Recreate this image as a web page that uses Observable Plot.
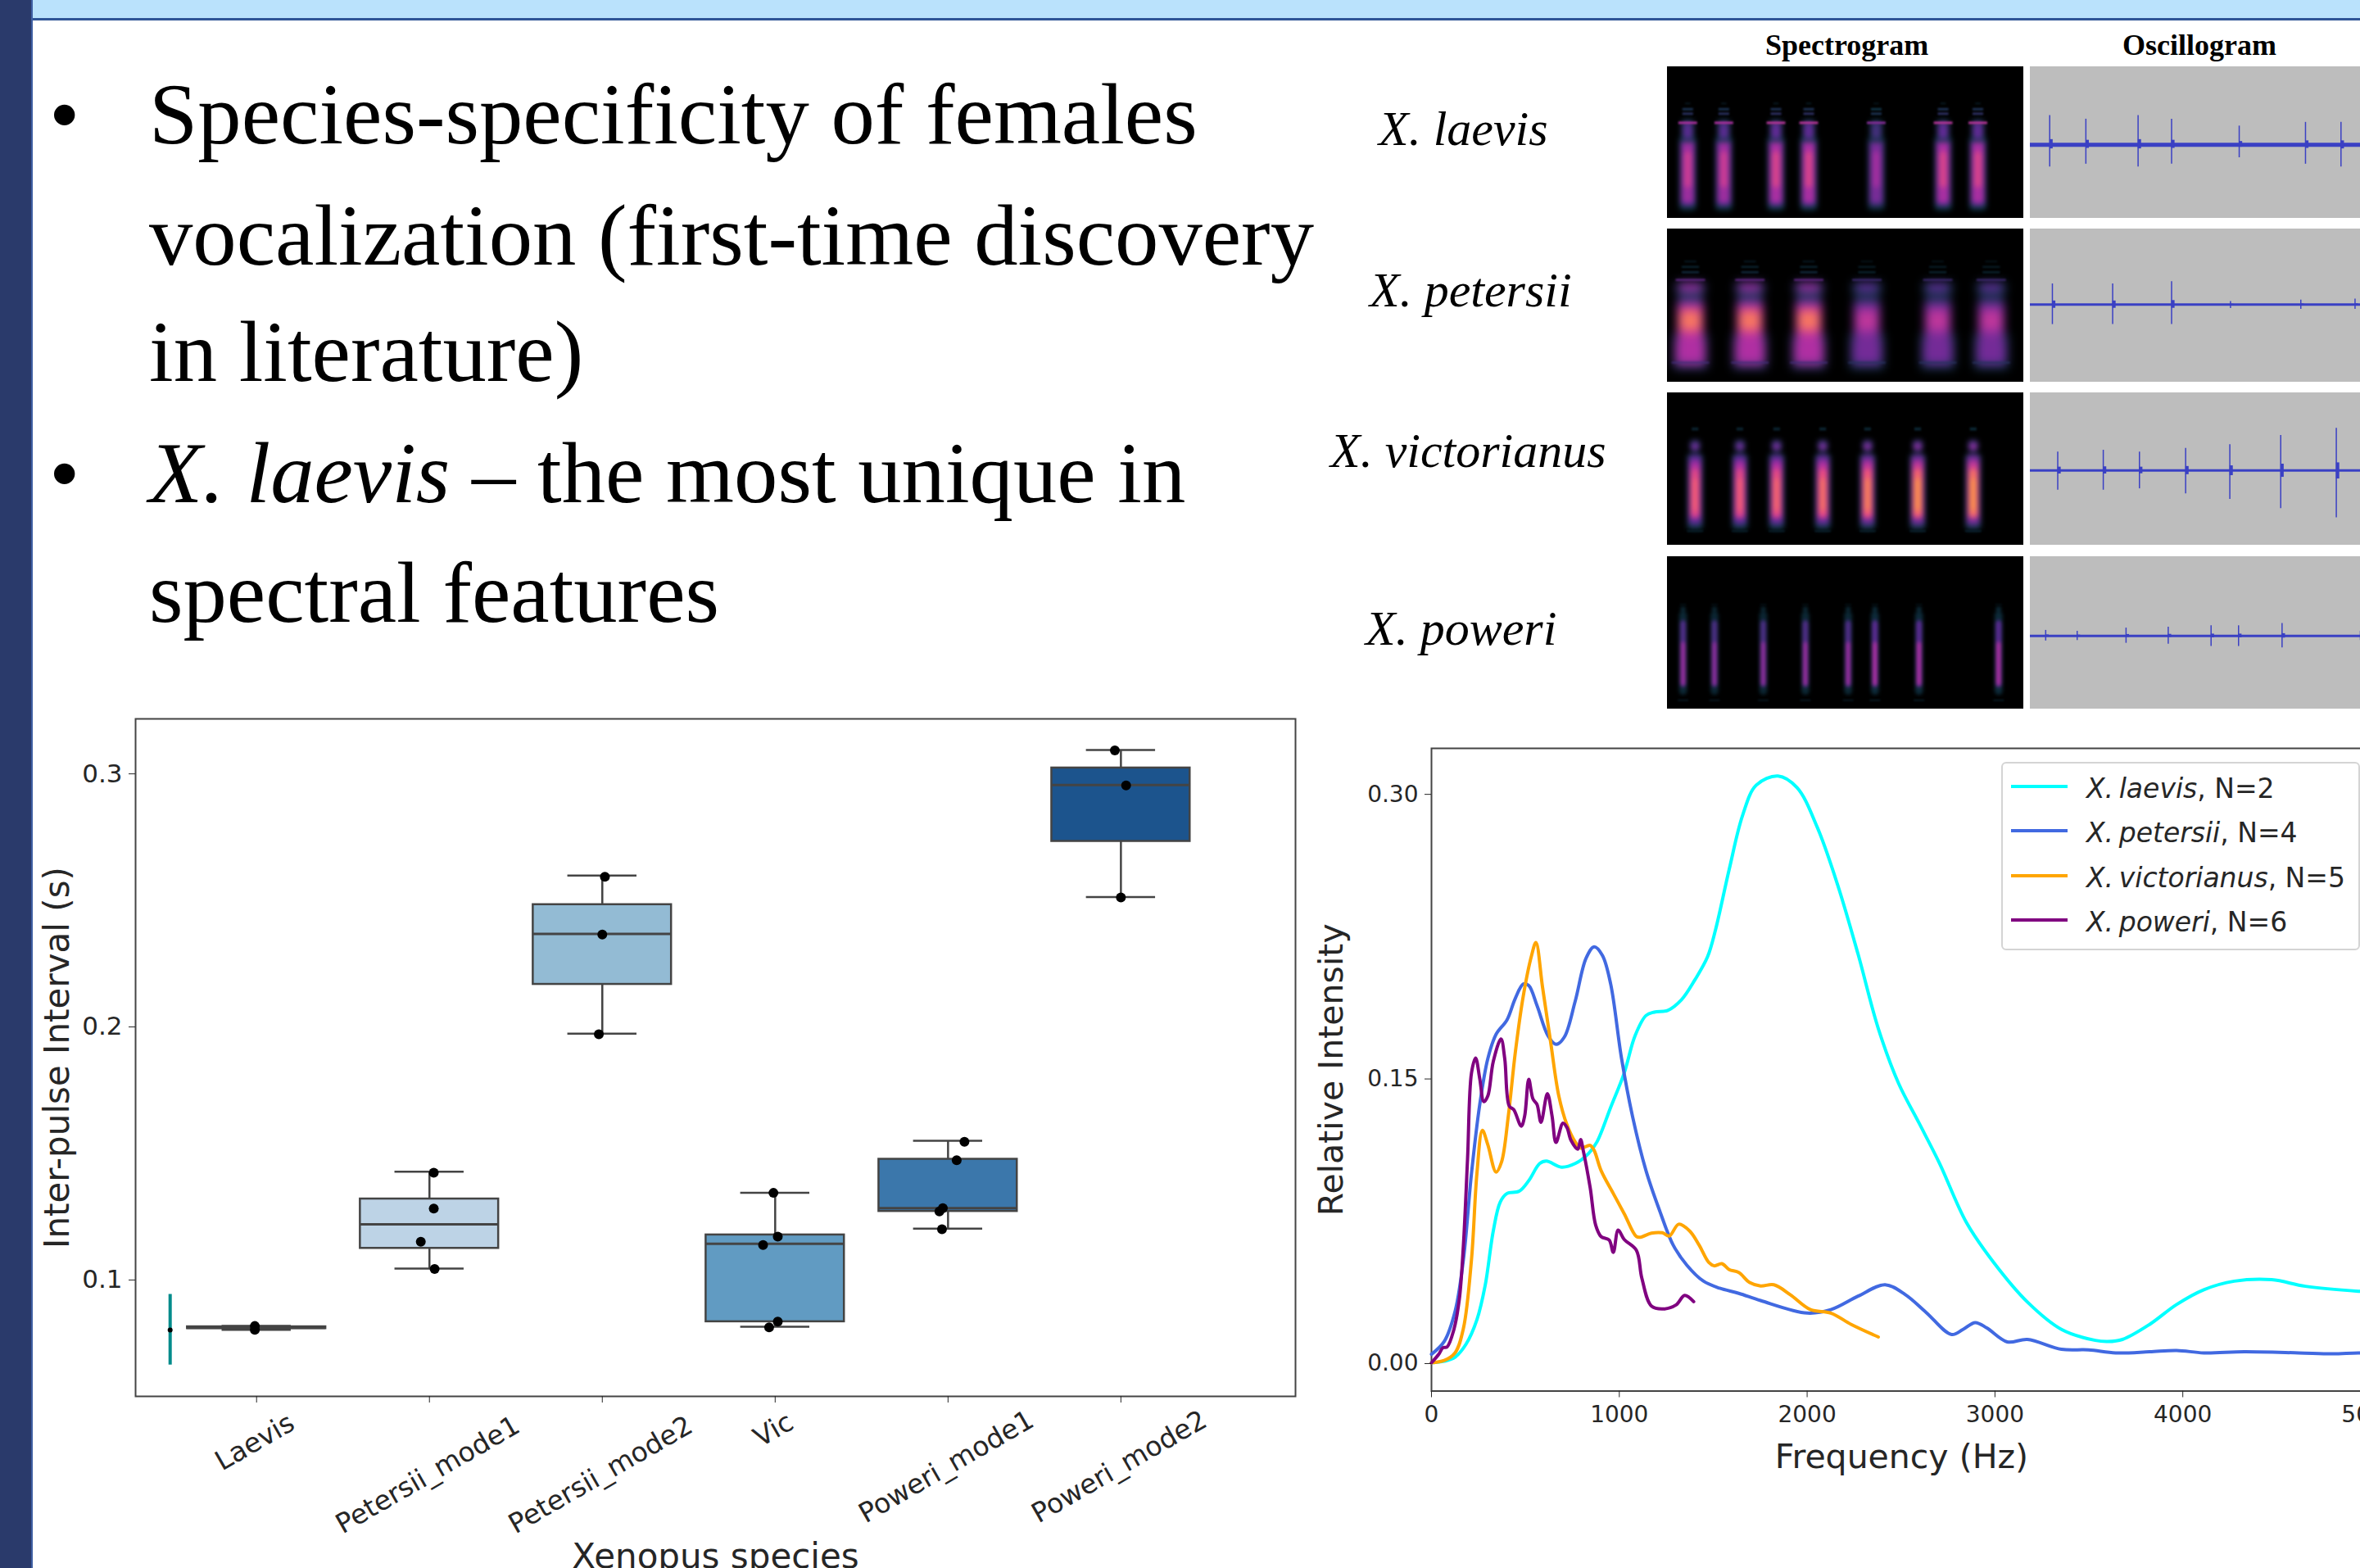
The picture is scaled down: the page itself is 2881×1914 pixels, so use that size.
<!DOCTYPE html>
<html><head><meta charset="utf-8">
<script src="https://cdn.jsdelivr.net/npm/d3@7"></script>
<script src="https://cdn.jsdelivr.net/npm/@observablehq/plot@0.6"></script>
<style>
html,body{margin:0;padding:0;background:#fff}
body{position:relative;width:2881px;height:1914px;overflow:hidden}
.a{position:absolute;white-space:nowrap;color:#000}
.serif{font-family:"Liberation Serif",serif}
svg{position:absolute}
</style></head><body>
<script>
// ---------- slide text ----------
const bulletLines = [
  {t:"Species-specificity of females", b:true, base:173},
  {t:"vocalization (first-time discovery", base:321},
  {t:"in literature)", base:463},
  {t:"<i>X. laevis</i> – the most unique in", b:true, base:611},
  {t:"spectral features", base:757}
];
// ---------- box plot ----------
const boxSpecies = ["Laevis","Petersii_mode1","Petersii_mode2","Vic","Poweri_mode1","Poweri_mode2"];
const boxQ1 =  [0.0805,0.1122,0.2165,0.0832,0.1268,0.2730];
const boxMed = [0.0808,0.1217,0.2364,0.1140,0.1281,0.2953];
const boxQ3 =  [0.0812,0.1317,0.2480,0.1175,0.1474,0.3020];
const boxLow = [0.0800,0.1042,0.1970,0.0812,0.1200,0.2510];
const boxHigh= [0.0815,0.1425,0.2595,0.1341,0.1547,0.3091];
const boxFill= ["#dfe9f3","#bdd3e6","#93bbd4","#619bc2","#3b77ab","#1c548d"];
const ptIndex= [0,0,1,1,1,1,2,2,2,3,3,3,3,3,4,4,4,4,4,5,5,5];
const ptJit  = [-0.01,-0.01,0.025,0.025,-0.05,0.03,0.015,0,-0.02,-0.01,0.015,-0.07,0.015,-0.035,0.095,0.05,-0.03,-0.05,-0.035,-0.035,0.03,0];
const ptVal  = [0.0815,0.0800,0.1421,0.1279,0.1148,0.1040,0.2590,0.2362,0.1968,0.1341,0.1168,0.1135,0.0832,0.0810,0.1543,0.1470,0.1281,0.1268,0.1197,0.3089,0.2951,0.2508];
const tealX = -0.50, tealLow = 0.0661, tealHigh = 0.0940, tealDot = 0.0799;
// ---------- spectra ----------
const laevisHz=[0,68,126,184,242,286,329,366,402,467,518,576,612,692,765,837,881,954,1026,1084,1142,1186,1258,1331,1403,1470,1513,1585,1657,1729,1845,1946,2054,2162,2271,2379,2487,2596,2704,2848,2993,3173,3354,3534,3600,3679,3823,3967,4112,4274,4473,4653,4935,5100];
const laevisI =[0,.0008,.003,.0098,.0227,.0408,.0695,.0847,.0892,.0904,.096,.105,.1063,.1031,.105,.1104,.1164,.1346,.1527,.1724,.183,.1848,.1857,.1913,.2019,.2140,.2285,.26,.2887,.3044,.3092,.3031,.2822,.252,.2154,.1761,.1472,.1263,.1053,.0739,.0529,.032,.0176,.0118,.0112,.0123,.0202,.0307,.0385,.043,.0438,.0403,.0377,.037];
const petersiiHz=[0,68,126,170,213,257,300,344,402,446,489,518,562,620,663,707,765,823,866,910,954,1012,1070,1142,1215,1287,1360,1447,1534,1636,1752,2000,2126,2271,2415,2523,2632,2769,2830,2895,2957,3065,3173,3354,3498,3643,3823,3967,4112,4328,4617,4798,4935,5100];
const petersiiI =[.0045,.0113,.0272,.0544,.0998,.1361,.1603,.1731,.1807,.192,.1996,.1988,.1882,.1724,.1678,.1716,.1905,.2132,.2192,.2147,.1996,.1603,.13,.1013,.0801,.062,.0514,.0431,.0393,.0366,.0328,.0262,.028,.0351,.0411,.0359,.0267,.0149,.0176,.0212,.0183,.011,.0123,.0071,.0068,.0052,.0058,.0065,.0052,.0058,.0052,.0047,.0052,.005];
const victorianusHz=[0,68,126,170,213,242,271,300,344,373,409,446,489,533,556,591,634,678,721,765,794,845,866,903,968,1026,1091,1113,1171,1229,1266,1316,1374,1425,1476,1505,1546,1585,1636,1694,1752,1823,1910,2018,2126,2235,2379];
const victorianusI =[0,.0012,.0053,.0181,.0544,.0998,.1225,.1149,.1005,.1058,.13,.1633,.1935,.2147,.2215,.1981,.1693,.1406,.1255,.1164,.1131,.1146,.1119,.1013,.0892,.0786,.0665,.0662,.0683,.0685,.0668,.073,.0695,.062,.0529,.0511,.0522,.0491,.0476,.0423,.0405,.0411,.0359,.028,.0262,.0202,.0136];
const poweriHz=[0,39,61,83,119,148,170,192,213,235,257,279,300,329,370,390,414,438,478,496,518,540,562,583,617,642,663,700,721,743,779,794,808,845,874,903,946,968,994,1026,1091,1120,1171,1237,1302,1348,1396];
const poweriI =[0,.0045,.0079,.0083,.0174,.0333,.062,.1074,.1527,.1606,.1497,.1376,.1406,.1588,.1706,.1603,.1353,.1334,.1247,.13,.1494,.1391,.1361,.1267,.1418,.13,.1161,.1263,.124,.1172,.1126,.1176,.1119,.0922,.0726,.0665,.0647,.0582,.0699,.065,.0593,.0446,.0299,.0284,.0305,.0355,.0322];
const lineNames=["laevis","petersii","victorianus","poweri"];
const lineCounts=[2,4,5,6];
const lineColors=["#00ffff","#4169e1","#ffa500","#800080"];
// ---------- spectrogram pulses (time units), bands: [f1,f2,halfWidth,level] ----------
const rowNames=["X. laevis","X. petersii","X. victorianus","X. poweri"];
const pulseT=[[31,85,163,212,313,413,465],[35,124,212,299,405,485],[42,109,164,233,300,375,458],[24,71,144,207,271,311,377,496]];
const pulseGain=[[.95,.95,1,1,.8,1,1],[1,1,1,.76,.76,.76],[.9,.9,.92,.94,.97,1,1.02],[.92,.88,.88,.92,.92,1,1,1]];
const softBands=[
 [[5,54,13,.2],[8,52,11,.48],[10,50,8,.66],[20,44,6,.8],[50,65,10,.22],[52,63,7.5,.46]],
 [[8,32,26,.28],[32,58,19,.2],[11,28,22,.62],[26,54,20,.5],[14,30,18,.68],[30,50,19,.76],[34,46,15,.95],[57,65.5,22,.3],[58.5,64,17,.6]],
 [[10,60,12,.22],[13,59,10,.5],[17,55,8,.74],[18,50,6.5,.92],[22,44,5,1],[61,69,8,.32],[62,67,6,.56]],
 [[9,64,6,.16],[14,58,4.5,.44],[15,44,3.5,.66],[64,67,3.5,.2]]
];
const sharpBands=[
 [[62,63.5,14,.72],[68,69.5,8,.3],[71,72.5,8,.25],[75,76,4,.1]],
 [[66,67,22,.5],[71,72,13,.22],[74.5,75.5,13,.17],[78,79,9,.1],[12,13,28,.36]],
 [[75,77,5,.14],[8.5,9.5,12,.14]],
 [[5,6,8,.1],[68,68.7,5,.08]]
];
const heatDomain=[0,.2,.45,.68,.88,1];
const heatRange=["#000000","#103547","#5b2a92","#b02fa2","#f0507e","#fb8f4c"];
// ---------- oscillogram spikes ----------
const spikeT=[[29,83,161,211,312,411,464],[33,123,211,299,404,485],[41,109,163,232,298,374,457],[23,70,143,206,270,311,376,493]];
const spikeUp=[[64,56,64,56,41,49,49],[45,45,50,7,10,12],[40,44,40,48,56,76,92],[12,10,17,19,22,22,27,10]];
const spikeDown=[[48,42,48,42,28,42,48],[43,43,43,8,10,10],[43,43,40,51,63,83,103],[11,10,16,18,23,23,26,10]];
const oscTop=[170,164,169,172];
const oscBottom=[160,168,163,159];
const oscBaseWidth=[5,3,3,3];

// ---------- helpers ----------
const add=n=>document.body.appendChild(n);
function text(html,x,base,fs,extra=""){
  const d=document.createElement("div");d.className="a serif";
  d.style.cssText=`left:${x}px;top:${base-0.891*fs}px;font-size:${fs}px;${extra}`;
  d.innerHTML=html;add(d);return d;
}
function box(x,y,w,h,c){const d=document.createElement("div");d.className="a";d.style.cssText=`left:${x}px;top:${y}px;width:${w}px;height:${h}px;background:${c}`;add(d);}
function place(svg,x,y){svg.style.left=x+"px";svg.style.top=y+"px";add(svg);}

// ---------- slide furniture ----------
box(39,0,2842,22,"#bae2fc");
box(39,22,2842,3,"#2f5597");
box(0,0,38,1914,"#2a3a6b");
box(38,0,2,1914,"#3f5fa3");
const bulletFs=106.7;
bulletLines.forEach(l=>{
  text(l.t,182,l.base,bulletFs);
  if(l.b) text("•",60,l.base,bulletFs);
});

// ---------- box plot ----------
const boxRows=boxSpecies.map((s,i)=>({i,s,q1:boxQ1[i],med:boxMed[i],q3:boxQ3[i],lo:boxLow[i],hi:boxHigh[i],fill:boxFill[i]}));
const pts=ptVal.map((v,k)=>({x:ptIndex[k]+ptJit[k],y:v}));
const sans="DejaVu Sans";
const W=0.4,C=0.2,dark="#444";
const boxPlot=Plot.plot({
  width:1620,height:1074,marginLeft:165,marginRight:39,marginTop:37,marginBottom:210,
  style:{fontFamily:sans,background:"transparent"},
  x:{domain:[-0.70,6.01]},
  y:{domain:[0.0537,0.3214]},
  marks:[
    Plot.frame({stroke:dark,strokeWidth:2}),
    Plot.ruleX(boxRows,{x:"i",y1:"lo",y2:"q1",stroke:dark,strokeWidth:2.5}),
    Plot.ruleX(boxRows,{x:"i",y1:"q3",y2:"hi",stroke:dark,strokeWidth:2.5}),
    Plot.ruleY(boxRows,{y:"lo",x1:d=>d.i-C,x2:d=>d.i+C,stroke:dark,strokeWidth:2.5}),
    Plot.ruleY(boxRows,{y:"hi",x1:d=>d.i-C,x2:d=>d.i+C,stroke:dark,strokeWidth:2.5}),
    Plot.rect(boxRows,{x1:d=>d.i-W,x2:d=>d.i+W,y1:"q1",y2:"q3",fill:"fill",stroke:dark,strokeWidth:2.5}),
    Plot.ruleY(boxRows,{y:"med",x1:d=>d.i-W,x2:d=>d.i+W,stroke:dark,strokeWidth:3}),
    Plot.dot(pts,{x:"x",y:"y",r:6,fill:"#000"}),
    Plot.ruleX([tealX],{y1:tealLow,y2:tealHigh,stroke:"#008b8b",strokeWidth:4}),
    Plot.dot([tealX],{x:d=>d,y:tealDot,r:3,fill:"#000"}),
    Plot.axisY({ticks:[0.1,0.2,0.3],tickFormat:".1f",fontSize:31,tickSize:8,tickPadding:8,color:"#262626",dy:1,label:null}),
    Plot.axisY({ticks:[],label:"Inter-pulse Interval (s)",labelAnchor:"center",labelOffset:111,labelArrow:"none",fontSize:42,color:"#262626"}),
    Plot.axisX({ticks:[0,1,2,3,4,5],text:null,tickSize:8,color:"#262626",label:null}),
    ...boxSpecies.map((s,i)=>Plot.axisX({ticks:[i],tickFormat:()=>s,tickSize:0,tickRotate:-30,textAnchor:"middle",lineAnchor:"middle",
      tickPadding:26+s.length*5,fontSize:33,dx:-2,color:"#262626",label:null})),
    Plot.axisX({ticks:[],label:"Xenopus species",labelAnchor:"center",labelOffset:209,labelArrow:"none",fontSize:42,color:"#262626"})
  ]
});
place(boxPlot,0,840);

// ---------- spectra ----------
const series=[[laevisHz,laevisI],[petersiiHz,petersiiI],[victorianusHz,victorianusI],[poweriHz,poweriI]]
  .map(([h,v],s)=>h.map((hz,k)=>({hz,v:v[k],s})));
const linePlot=Plot.plot({
  width:1400,height:950,marginLeft:167,marginRight:63.6,marginTop:33,marginBottom:132.5,
  style:{fontFamily:sans,background:"transparent"},
  x:{domain:[0,5100],label:null},
  y:{domain:[-0.0149,0.3238]},
  marks:[
    Plot.frame({stroke:dark,strokeWidth:2}),
    ...series.map((d,s)=>Plot.line(d,{x:"hz",y:"v",stroke:lineColors[s],strokeWidth:4,curve:"catmull-rom"})),
    Plot.axisY({ticks:[0,0.15,0.3],tickFormat:".2f",fontSize:28,tickSize:8,tickPadding:8,dy:1,color:"#262626",label:null}),
    Plot.axisY({ticks:[],label:"Relative Intensity",labelAnchor:"center",labelOffset:138,labelArrow:"none",fontSize:41,color:"#262626"}),
    Plot.axisX({ticks:[0,1000,2000,3000,4000,5000],tickFormat:"d",fontSize:28,tickSize:8,tickPadding:10,color:"#262626",label:null}),
    Plot.text(["Frequency (Hz)"],{x:()=>2503,frameAnchor:"bottom",dy:81,lineAnchor:"middle",fontSize:41,fill:"#262626"})
  ]
});
place(linePlot,1580,880);

// legend
const lg=document.createElement("div");lg.className="a";
lg.style.cssText="left:2443px;top:930px;width:434px;height:226px;background:#fff;border:2px solid #d4d4d4;border-radius:6px;box-sizing:content-box";
add(lg);
const legendYs=[960,1014,1069,1123];
lineNames.forEach((n,i)=>{
  box(2455,legendYs[i]-2,69,4,lineColors[i]);
  const d=document.createElement("div");d.className="a";
  d.style.cssText=`left:2547px;top:${legendYs[i]-19}px;font:33px/44px "DejaVu Sans";color:#262626`;
  d.innerHTML=`<i>X.\u2009${n}</i>, N=${lineCounts[i]}`;add(d);
});

// ---------- panels ----------
const rowTop=[81,279,479,679],rowH=[185,187,186,186];
const labelX=[1683,1672,1624,1667],labelBase=[176,373,569,786];
const labelSizes=[60,60,60,60];
rowNames.forEach((n,r)=>{
  text(`<i>${n}</i>`,labelX[r],labelBase[r],labelSizes[r]);
  const build=bs=>pulseT[r].flatMap((t,p)=>bs.map(([f1,f2,hw,lv])=>({x1:t-hw,x2:t+hw,f1,f2,lv:lv*pulseGain[r][p]})));
  const blur=px=>(i,s,v,d,c,next)=>{const g=next(i,s,v,d,c);g.style.filter=`blur(${px}px)`;return g;};
  const spec=Plot.plot({
    width:435,height:rowH[r],margin:0,style:{background:"#000"},
    x:{domain:[0,533],axis:null},y:{domain:[0,100],axis:null},
    color:{type:"linear",domain:heatDomain,range:heatRange,clamp:true},
    marks:[
      Plot.rect(build(softBands[r]),{x1:"x1",x2:"x2",y1:"f1",y2:"f2",fill:"lv",rx:5,render:blur(r==1?6:r==3?2:3)}),
      Plot.rect(build(sharpBands[r]),{x1:"x1",x2:"x2",y1:"f1",y2:"f2",fill:"lv",render:blur(1.2)})
    ]
  });
  place(spec,2035,rowTop[r]);
  const sp=spikeT[r].map((t,k)=>({t,up:spikeUp[r][k],dn:-spikeDown[r][k]}));
  const osc=Plot.plot({
    width:403,height:rowH[r],margin:0,style:{background:"#bdbdbd"},
    x:{domain:[0,493],axis:null},y:{domain:[-oscBottom[r],oscTop[r]],axis:null},
    marks:[
      Plot.ruleY([0],{stroke:"#3a40c4",strokeWidth:oscBaseWidth[r]}),
      Plot.ruleX(sp,{x:"t",y1:"dn",y2:"up",stroke:"#3a40c4",strokeWidth:1.5}),
      Plot.ruleX(sp,{x:d=>d.t+2,y1:d=>d.dn*0.18,y2:d=>d.up*0.18,stroke:"#3a40c4",strokeWidth:4})
    ]
  });
  place(osc,2478,rowTop[r]);
});
const h1=text("<b>Spectrogram</b>",2155,66,36);
const h2=text("<b>Oscillogram</b>",2591,66,36);
</script>
</body></html>
